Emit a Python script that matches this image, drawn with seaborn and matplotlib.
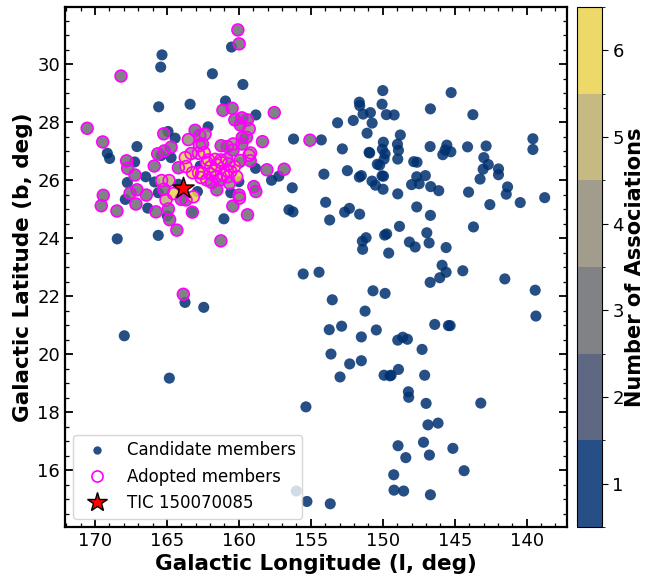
import numpy as np
import pandas as pd
import matplotlib
matplotlib.use("Agg")
import matplotlib.pyplot as plt
import matplotlib.colors as mcolors
from matplotlib.cm import ScalarMappable
from matplotlib.lines import Line2D
from matplotlib.ticker import MultipleLocator
import seaborn as sns

# ---------------- data ----------------
# candidate members with a single association (n = 1)
cand_l = [150.0, 145.25, 151.63, 151.6, 150.05, 146.69, 151.37, 150.86, 149.75, 149.21, 143.74, 153.14, 152.05, 150.74,
          156.2, 154.27, 151.09, 148.78, 139.57, 139.57, 152.81, 149.96, 148.98, 146.71, 145.55, 144.11, 142.82, 150.91,
          150.95, 150.03, 149.84, 149.91, 148.91, 148.96, 145.83, 145.27, 145.67, 142.98, 142.67, 150.38, 150.22, 147.85,
          147.62, 141.96, 141.96, 143.03, 143.24, 154.09, 152.46, 151.63, 151.49, 150.05, 149.95, 150.75, 150.51, 149.98,
          148.96, 147.64, 147.04, 148.0, 147.47, 146.67, 146.11, 144.04, 141.33, 141.42, 140.45, 138.75, 142.56, 147.64,
          146.69, 153.97, 152.65, 152.32, 151.61, 153.69, 148.84, 146.94, 143.70, 151.42, 151.16, 151.4, 149.87, 149.73,
          148.15, 147.75, 146.78, 145.60, 149.59, 145.88, 145.6, 144.44, 155.53, 154.43, 141.52,
          146.71, 146.04, 139.41, 139.36, 150.68, 149.84, 153.51, 151.23, 153.72, 152.86, 151.49, 150.45, 146.39, 145.44,
          145.32, 148.96, 148.61, 148.29, 147.27, 153.6, 152.30, 151.49, 152.97, 149.91, 149.5, 149.42, 148.91, 147.09,
          148.22, 148.2, 146.99, 143.19, 155.34, 146.86, 146.16, 148.94, 147.17, 145.13, 148.40, 146.76, 144.35, 149.24,
          149.22, 148.55, 146.69, 156.01, 155.27, 153.65,
          168.45, 163.74, 162.44, 167.96, 164.83, 160.51, 165.34, 165.43, 161.84, 159.72, 165.57, 163.39, 160.93, 158.82,
          162.14, 164.92, 164.43, 167.08, 169.14, 168.98, 164.71, 165.4, 167.24, 166.47, 167.75, 167.89, 166.33, 165.60,
          165.85, 164.20, 162.88, 164.97, 165.60, 161.04, 160.56, 160.0, 159.93, 158.84, 157.73, 157.22, 156.29, 156.52,
          156.24, 162.69]
cand_b = [29.09, 29.02, 28.69, 28.57, 28.62, 28.46, 28.28, 28.33, 28.26, 28.25, 28.26, 27.98, 28.06, 27.97,
          27.42, 27.39, 27.62, 27.56, 27.43, 27.06, 27.08, 27.31, 27.24, 27.16, 27.21, 27.15, 27.18, 26.94,
          26.96, 27.07, 26.91, 26.73, 27.03, 26.73, 26.88, 26.98, 27.04, 26.78, 26.54, 26.55, 26.52, 26.64,
          26.62, 26.39, 26.19, 26.38, 26.04, 26.21, 26.33, 26.11, 26.16, 26.15, 26.14, 25.97, 25.83, 25.69,
          25.53, 26.12, 26.16, 25.85, 25.88, 25.78, 25.64, 25.59, 25.77, 25.52, 25.23, 25.4, 25.16, 25.08,
          24.79, 25.24, 24.9, 25.03, 24.83, 24.63, 24.41, 24.19, 24.39, 23.9, 24.02, 23.62, 24.11, 24.15,
          23.87, 23.7, 23.84, 23.68, 23.49, 23.07, 22.83, 22.88, 22.77, 22.83, 22.6,
          22.48, 22.64, 22.21, 21.32, 22.19, 22.1, 21.88, 21.49, 20.85, 20.97, 20.60, 20.84, 21.03, 20.99,
          20.99, 20.49, 20.59, 20.52, 20.17, 20.01, 19.67, 19.78, 19.22, 19.28, 19.26, 19.28, 19.48, 19.28,
          18.71, 18.52, 18.31, 18.32, 18.19, 17.57, 17.63, 16.85, 16.97, 16.76, 16.44, 16.53, 15.99, 15.85,
          15.32, 15.29, 15.16, 15.29, 14.93, 14.85,
          23.98, 21.79, 21.62, 20.64, 19.18, 30.59, 30.32, 29.90, 29.67, 29.30, 28.53, 28.62, 28.73, 28.25,
          27.84, 27.68, 27.45, 27.16, 26.93, 26.75, 26.78, 26.85, 26.63, 26.12, 25.92, 25.34, 25.04, 25.57,
          25.94, 25.86, 25.61, 24.77, 24.10, 24.67, 25.57, 25.95, 26.61, 26.41, 26.0, 26.14, 25.74, 24.98,
          24.91, 26.49]

# adopted members (longitude, latitude, number of associations)
adopt_l = [160.07, 159.98, 168.19, 161.11, 160.47, 157.54, 160.28, 159.79, 159.40, 159.91, 159.28, 170.54, 163.04,
           165.22, 163.51, 162.72, 162.35, 162.53, 162.74, 159.77, 159.47, 159.79, 160.40, 161.23, 160.81, 158.36,
           155.06, 169.46, 165.64, 165.18, 164.71, 163.32, 162.41, 160.40, 159.19, 159.30, 159.21, 163.72, 163.67,
           164.20, 165.88, 167.80, 167.73, 167.22, 167.08, 169.42, 169.56, 167.56, 167.15, 168.47, 166.43, 165.76,
           165.37, 164.85, 165.21, 165.06, 164.55, 164.0, 163.67, 163.16, 163.23, 164.90, 164.81, 164.31, 161.25,
           163.86, 159.98, 159.96, 160.42, 159.40, 158.96, 158.82, 158.05, 156.85,
           162.81, 163.22, 162.58, 162.23, 161.95, 162.0, 161.53, 161.66, 161.23, 160.84, 160.56, 161.07, 161.30,
           162.23, 161.88, 161.53, 160.15, 160.65, 162.11, 161.65, 161.25, 160.72, 160.31, 159.91, 161.6, 160.76,
           160.8, 162.8, 162.63]
adopt_b = [31.18, 30.70, 29.59, 28.41, 28.48, 28.33, 28.08, 28.15, 28.08, 27.91, 27.77, 27.79, 27.72,
           27.60, 27.40, 27.54, 27.59, 27.25, 27.19, 27.47, 27.48, 27.25, 27.25, 27.19, 27.16, 27.33,
           27.38, 27.32, 26.91, 27.01, 27.14, 26.92, 26.95, 27.04, 26.94, 26.86, 26.67, 26.78, 26.47,
           26.43, 26.49, 26.67, 26.41, 26.18, 25.67, 25.48, 25.12, 25.55, 25.18, 24.94, 25.49, 24.91,
           25.99, 25.99, 25.69, 25.32, 25.54, 25.34, 25.32, 25.43, 24.90, 25.01, 24.64, 24.28, 23.91,
           22.07, 25.49, 25.38, 25.11, 24.81, 25.78, 25.61, 26.36, 26.38,
           26.93, 26.26, 26.24, 26.61, 26.47, 26.22, 26.53, 26.36, 26.61, 26.72, 26.30, 26.18, 26.01,
           26.01, 25.92, 25.67, 26.12, 25.90, 26.70, 26.72, 26.70, 26.56, 26.47, 26.68, 26.12, 26.12,
           26.31, 26.26, 26.09]
adopt_n = [3, 3, 3, 3, 3, 3, 3, 3, 3, 3, 4, 3, 3,
           3, 4, 3, 4, 3, 4, 3, 3, 3, 4, 3, 3, 3,
           3, 3, 3, 3, 3, 4, 6, 3, 4, 5, 3, 6, 6,
           3, 3, 3, 3, 3, 3, 3, 3, 3, 3, 3, 3, 3,
           5, 5, 3, 5, 6, 3, 3, 6, 2, 3, 3, 3, 3,
           3, 3, 4, 3, 3, 3, 3, 3, 3,
           5, 6, 6, 6, 6, 5, 4, 6, 6, 4, 6, 6, 3,
           4, 3, 3, 6, 4, 6, 6, 5, 4, 6, 4, 4, 4,
           3, 6, 6]

tic_l = [163.86]
tic_b = [25.72]

levels = [1, 2, 3, 4, 5, 6]

# ---------------- figure ----------------
W, H = 647, 576
fig = plt.figure(figsize=(W / 100, H / 100), dpi=100)
ax = fig.add_axes([65 / W, 49 / H, 502 / W, 520 / H])
cax = fig.add_axes([577 / W, 49 / H, 25 / W, 520 / H])

base = plt.get_cmap("cividis")
cmap = mcolors.ListedColormap([base((k - 0.5) / len(levels)) for k in levels])
norm = mcolors.BoundaryNorm(np.arange(0.5, 7.0, 1.0), cmap.N)
palette = {k: cmap(norm(k)) for k in levels}
ALPHA = 0.85

df = pd.DataFrame({
    "l": list(cand_l) + list(adopt_l),
    "b": list(cand_b) + list(adopt_b),
    "n": [1] * len(cand_l) + list(adopt_n),
})
df = df.sort_values("n", kind="stable")

sns.scatterplot(data=df, x="l", y="b", hue="n", palette=palette, hue_order=levels,
                s=64, alpha=ALPHA, edgecolor="none", linewidth=0, legend=False, ax=ax, zorder=2)

adf = pd.DataFrame({"l": adopt_l, "b": adopt_b})
sns.scatterplot(data=adf, x="l", y="b", s=72, facecolor="none", edgecolor="magenta",
                linewidth=1.2, legend=False, ax=ax, zorder=3)

tdf = pd.DataFrame({"l": tic_l, "b": tic_b})
sns.scatterplot(data=tdf, x="l", y="b", marker="*", s=260, color="red", edgecolor="black",
                linewidth=1.0, legend=False, ax=ax, zorder=4)

ax.set_xlim(172.08, 137.2)
ax.set_ylim(14.05, 31.97)
ax.xaxis.set_major_locator(MultipleLocator(5))
ax.xaxis.set_minor_locator(MultipleLocator(1))
ax.yaxis.set_major_locator(MultipleLocator(2))
ax.yaxis.set_minor_locator(MultipleLocator(0.5))
ax.tick_params(which="both", direction="in", top=True, right=True, labelsize=13)
ax.tick_params(which="major", length=6, width=1.3)
ax.tick_params(which="minor", length=3, width=0.9)
for sp in ax.spines.values():
    sp.set_linewidth(1.6)

ax.set_xlabel("Galactic Longitude (l, deg)", fontsize=15.5, fontweight="bold", labelpad=3)
ax.set_ylabel("Galactic Latitude (b, deg)", fontsize=15.5, fontweight="bold", labelpad=3)

handles = [
    Line2D([], [], marker="o", linestyle="none", markersize=6, markerfacecolor=palette[1],
           markeredgecolor="none", alpha=ALPHA, label="Candidate members"),
    Line2D([], [], marker="o", linestyle="none", markersize=8, markerfacecolor="none",
           markeredgecolor="magenta", markeredgewidth=1.2, label="Adopted members"),
    Line2D([], [], marker="*", linestyle="none", markersize=15, markerfacecolor="red",
           markeredgecolor="black", markeredgewidth=1.0, label="TIC 150070085"),
]
ax.legend(handles=handles, loc="lower left", fontsize=12, frameon=True, framealpha=0.8)

sm = ScalarMappable(norm=norm, cmap=cmap)
sm.set_array([])
cb = fig.colorbar(sm, cax=cax, ticks=levels, alpha=ALPHA)
cb.ax.tick_params(labelsize=13, length=4)
cb.set_label("Number of Associations", fontsize=15, fontweight="bold", labelpad=1)

fig.savefig("out.png", dpi=100)
